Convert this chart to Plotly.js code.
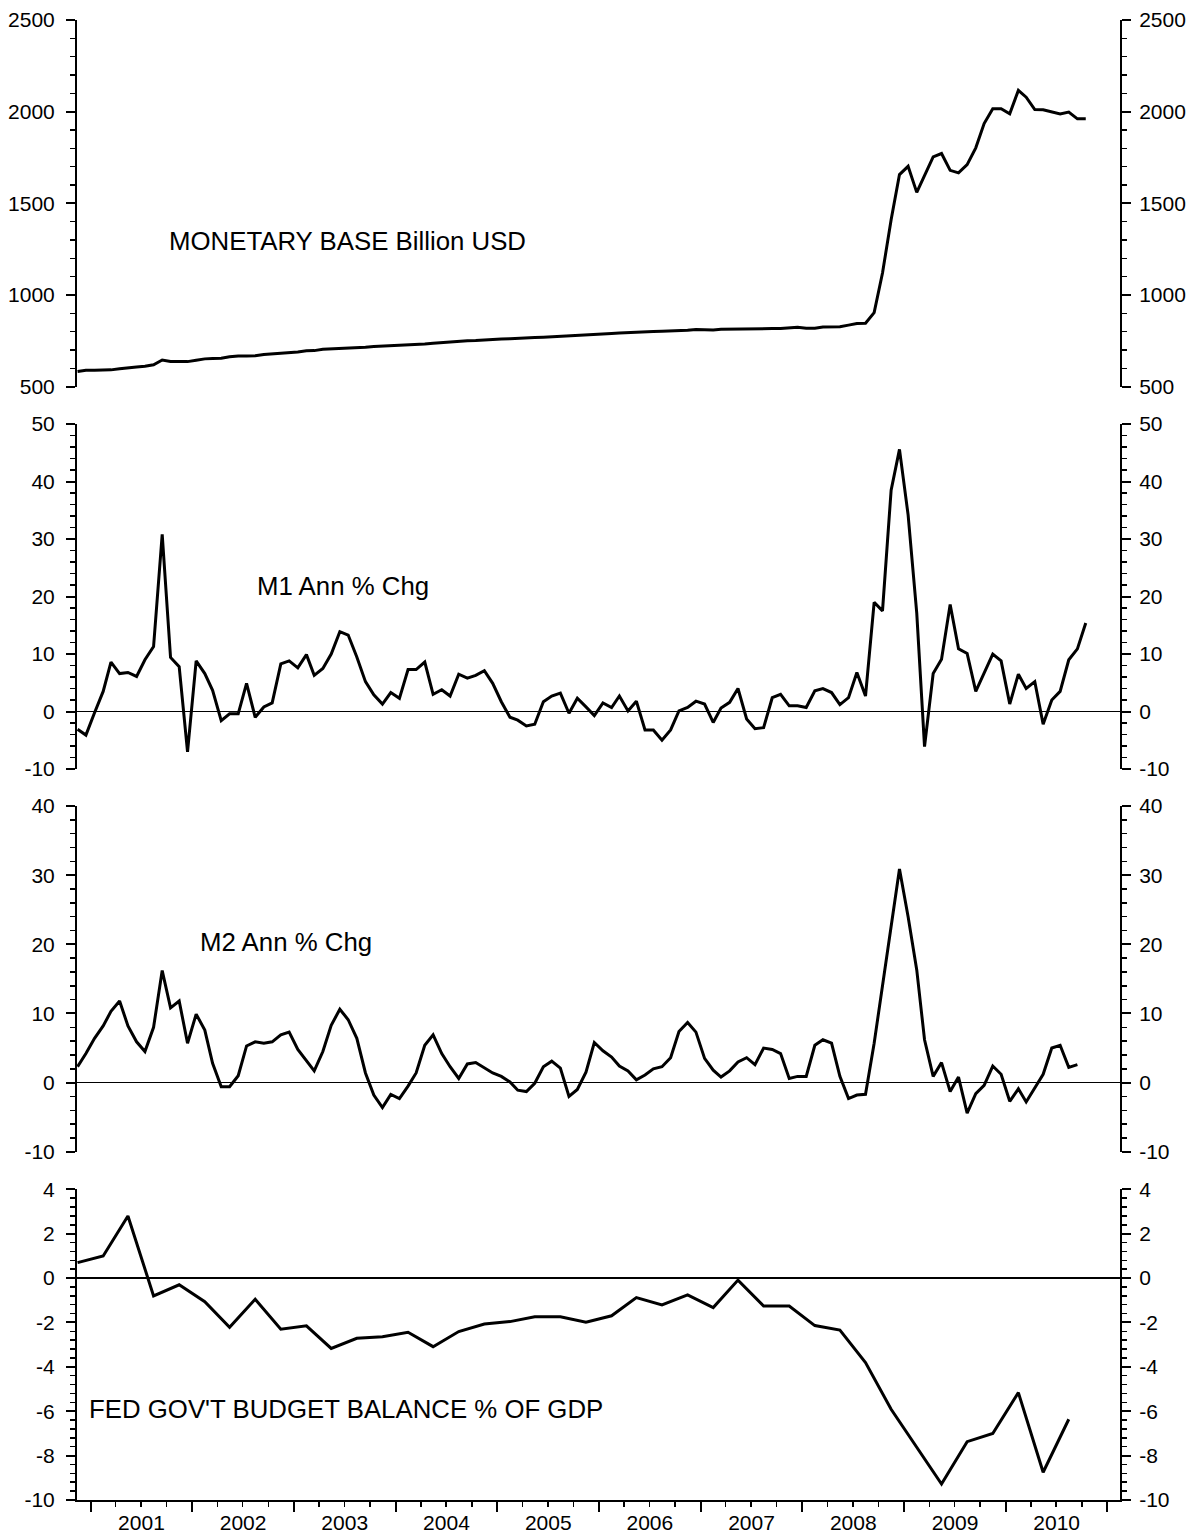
<!DOCTYPE html>
<html>
<head>
<meta charset="utf-8">
<script src="https://cdn.plot.ly/plotly-3.0.1.min.js"></script>
<style>
html, body { margin: 0; padding: 0; background: #ffffff; }
#chart { width: 1194px; height: 1537px; }
</style>
</head>
<body>
<div id="chart"></div>
<script>
// ---- Data (monthly from Nov 2000, quarterly from Q4 2000) ----
const monetaryBase = [
  583, 590, 590, 591, 592, 598, 601, 608, 612, 620, 646, 638,
  637, 637, 645, 652, 654, 655, 663, 668, 668, 669, 676, 679,
  684, 688, 690, 696, 697, 704, 706, 707, 710, 713, 716, 720,
  722, 723, 725, 728, 731, 733, 737, 741, 744, 748, 751, 752,
  756, 760, 760, 762, 765, 767, 768, 770, 773, 775, 779, 781,
  783, 787, 789, 791, 793, 796, 799, 800, 801, 802, 803, 805,
  808, 812, 810, 810, 813, 813, 815, 815, 815, 817, 817, 818,
  820, 825, 819, 819, 826, 826, 827, 836, 845, 846, 904, 1120,
  1411, 1657, 1702, 1560, 1650, 1754, 1772, 1680, 1666, 1711, 1803, 1935,
  2016, 2016, 1989, 2116, 2079, 2012, 2010, 1997, 1987, 1998, 1961, 1961
];
const m1Growth = [
  -3.1, -4.1, -0.2, 3.5, 8.6, 6.6, 6.8, 6.1, 9.0, 11.3, 30.8, 9.4,
  7.8, -7.0, 8.8, 6.6, 3.7, -1.6, -0.4, -0.4, 4.9, -1.0, 0.8, 1.5,
  8.3, 8.8, 7.6, 9.9, 6.3, 7.5, 10.0, 13.9, 13.3, 9.5, 5.2, 2.9,
  1.3, 3.3, 2.3, 7.3, 7.3, 8.6, 3.0, 3.8, 2.7, 6.5, 5.8, 6.3,
  7.1, 4.9, 1.7, -1.0, -1.5, -2.5, -2.2, 1.7, 2.7, 3.2, -0.3, 2.3,
  0.8, -0.7, 1.5, 0.7, 2.7, 0.1, 1.8, -3.2, -3.2, -5.0, -3.2, 0.1,
  0.7, 1.8, 1.3, -1.9, 0.6, 1.6, 4.0, -1.3, -3.0, -2.8, 2.4, 3.0,
  1.0, 1.0, 0.7, 3.6, 4.0, 3.3, 1.2, 2.4, 6.8, 2.7, 19.0, 17.5,
  38.5, 45.6, 34.2, 17.1, -6.1, 6.6, 9.1, 18.6, 10.9, 10.1, 3.5, 6.8,
  10.0, 8.8, 1.3, 6.5, 4.0, 5.2, -2.2, 2.0, 3.5, 9.0, 10.9, 15.4
];
const m2Growth = [
  2.3, 4.2, 6.4, 8.2, 10.3, 11.8, 8.2, 5.9, 4.5, 8.0, 16.2, 10.8,
  11.8, 5.7, 9.9, 7.6, 2.8, -0.6, -0.6, 1.0, 5.3, 5.9, 5.7, 5.9,
  6.9, 7.3, 4.8, 3.2, 1.7, 4.5, 8.3, 10.6, 9.1, 6.4, 1.4, -1.8,
  -3.6, -1.7, -2.3, -0.5, 1.4, 5.4, 6.9, 4.2, 2.3, 0.6, 2.7, 2.9,
  2.2, 1.4, 0.9, 0.1, -1.1, -1.3, -0.1, 2.3, 3.1, 2.1, -2.0, -1.0,
  1.5, 5.8, 4.6, 3.7, 2.4, 1.7, 0.4, 1.1, 2.0, 2.3, 3.6, 7.4,
  8.7, 7.3, 3.5, 1.8, 0.8, 1.7, 3.0, 3.6, 2.6, 5.0, 4.8, 4.2,
  0.6, 0.9, 0.9, 5.4, 6.2, 5.7, 0.9, -2.3, -1.8, -1.7, 5.7, 13.9,
  22.1, 30.9, 24.0, 16.3, 6.2, 0.9, 2.9, -1.3, 0.8, -4.4, -1.6, -0.4,
  2.4, 1.2, -2.7, -0.9, -2.8, -0.8, 1.2, 5.0, 5.4, 2.2, 2.6
];
const budgetBalance = [
  0.7, 1.0, 2.8, -0.8, -0.3, -1.06, -2.22, -0.95, -2.3, -2.15,
  -3.17, -2.71, -2.64, -2.44, -3.09, -2.41, -2.07, -1.96, -1.74, -1.74,
  -1.99, -1.7, -0.88, -1.21, -0.76, -1.33, -0.09, -1.26, -1.26, -2.14,
  -2.34, -3.81, -5.91, -7.6, -9.28, -7.37, -7.0, -5.16, -8.75, -6.36
];
const seriesTitles = [
  'MONETARY BASE Billion USD',
  'M1 Ann % Chg',
  'M2 Ann % Chg',
  "FED GOV'T BUDGET BALANCE % OF GDP"
];
const mbTicks = [500, 1000, 1500, 2000, 2500];
const m1Ticks = [-10, 0, 10, 20, 30, 40, 50];
const m2Ticks = [-10, 0, 10, 20, 30, 40];
const budgetTicks = [-10, -8, -6, -4, -2, 0, 2, 4];

// period dates (mid-month / mid-quarter), first observation Nov 2000
function periodDates(n, stepMonths) {
  const out = [];
  for (let i = 0; i < n; i++) {
    const k = 10 + i * stepMonths;
    const y = 2000 + Math.floor(k / 12);
    const m = (k % 12) + 1;
    out.push(y + '-' + String(m).padStart(2, '0') + '-15');
  }
  return out;
}

const FONT = 'Liberation Sans, Arial, Helvetica, sans-serif';
const tickFont = {family: FONT, size: 21, color: '#000'};

function yAx(domain, range, ticks, minorStep, right, overlay) {
  const ax = {
    domain: domain,
    range: range,
    anchor: 'x',
    tickmode: 'array',
    tickvals: ticks,
    ticktext: ticks.map(String),
    ticks: 'outside',
    ticklen: 9,
    tickwidth: 2,
    tickcolor: '#000',
    showline: true,
    linewidth: 2,
    linecolor: '#000',
    showgrid: false,
    zeroline: !right,
    zerolinecolor: '#000',
    zerolinewidth: 1.5,
    tickfont: tickFont,
    ticklabelstandoff: right ? 4 : 7,
    fixedrange: true,
    minor: {tickmode: 'linear', tick0: 0, dtick: minorStep, ticks: 'outside', ticklen: 5, tickwidth: 1.5, tickcolor: '#000', showgrid: false}
  };
  if (right) { ax.side = 'right'; ax.overlaying = overlay; }
  return ax;
}

const domP1 = [0.7522, 1.0];
const domP2 = [0.4939, 0.7270];
const domP3 = [0.2353, 0.4689];
const domP4 = [0.0, 0.2099];

const lineStyle = {color: '#000', width: 3};
const qDates = periodDates(budgetBalance.length, 3);

const traces = [
  {x: periodDates(monetaryBase.length, 1), y: monetaryBase, yaxis: 'y', mode: 'lines', line: lineStyle, hoverinfo: 'skip', showlegend: false},
  {x: [], y: [], yaxis: 'y2', mode: 'lines', hoverinfo: 'skip', showlegend: false},
  {x: periodDates(m1Growth.length, 1), y: m1Growth, yaxis: 'y3', mode: 'lines', line: lineStyle, hoverinfo: 'skip', showlegend: false},
  {x: [], y: [], yaxis: 'y4', mode: 'lines', hoverinfo: 'skip', showlegend: false},
  {x: periodDates(m2Growth.length, 1), y: m2Growth, yaxis: 'y5', mode: 'lines', line: lineStyle, hoverinfo: 'skip', showlegend: false},
  {x: [], y: [], yaxis: 'y6', mode: 'lines', hoverinfo: 'skip', showlegend: false},
  {x: qDates, y: budgetBalance, yaxis: 'y7', mode: 'lines', line: lineStyle, hoverinfo: 'skip', showlegend: false},
  {x: [], y: [], yaxis: 'y8', mode: 'lines', hoverinfo: 'skip', showlegend: false}
];

const annFont = {family: FONT, size: 25.8, color: '#000'};
function ann(text, x, y) {
  return {text: text, xref: 'paper', yref: 'paper', x: x, y: y, xanchor: 'left', yanchor: 'middle', showarrow: false, font: annFont};
}

const layout = {
  width: 1194,
  height: 1537,
  margin: {l: 77, r: 74, t: 20, b: 37, pad: 0},
  paper_bgcolor: '#ffffff',
  plot_bgcolor: '#ffffff',
  showlegend: false,
  font: {family: FONT, size: 21, color: '#000'},
  xaxis: {
    type: 'date',
    domain: [0, 1],
    anchor: 'y7',
    range: ['2000-11-13', '2011-02-15'],
    tick0: '2001-01-01',
    dtick: 'M12',
    tickformat: '%Y',
    ticklabelmode: 'period',
    ticks: 'outside',
    ticklen: 10,
    tickwidth: 2,
    tickcolor: '#000',
    showline: true,
    linewidth: 2,
    linecolor: '#000',
    showgrid: false,
    zeroline: false,
    tickfont: tickFont,
    ticklabelstandoff: -7,
    fixedrange: true,
    minor: {tick0: '2001-01-01', dtick: 'M3', ticks: 'outside', ticklen: 5, tickwidth: 1.5, tickcolor: '#000', showgrid: false}
  },
  yaxis: yAx(domP1, [500, 2500], mbTicks, 100, false),
  yaxis2: yAx(domP1, [500, 2500], mbTicks, 100, true, 'y'),
  yaxis3: yAx(domP2, [-10, 50], m1Ticks, 2, false),
  yaxis4: yAx(domP2, [-10, 50], m1Ticks, 2, true, 'y3'),
  yaxis5: yAx(domP3, [-10, 40], m2Ticks, 2, false),
  yaxis6: yAx(domP3, [-10, 40], m2Ticks, 2, true, 'y5'),
  yaxis7: yAx(domP4, [-10, 4], budgetTicks, 0.4, false),
  yaxis8: yAx(domP4, [-10, 4], budgetTicks, 0.4, true, 'y7'),
  annotations: [
    ann(seriesTitles[0], 0.0862, 0.8507),
    ann(seriesTitles[1], 0.1706, 0.6176),
    ann(seriesTitles[2], 0.1160, 0.3770),
    ann(seriesTitles[3], 0.0095, 0.0615)
  ]
};

Plotly.newPlot('chart', traces, layout, {staticPlot: true, displayModeBar: false});
</script>
</body>
</html>
